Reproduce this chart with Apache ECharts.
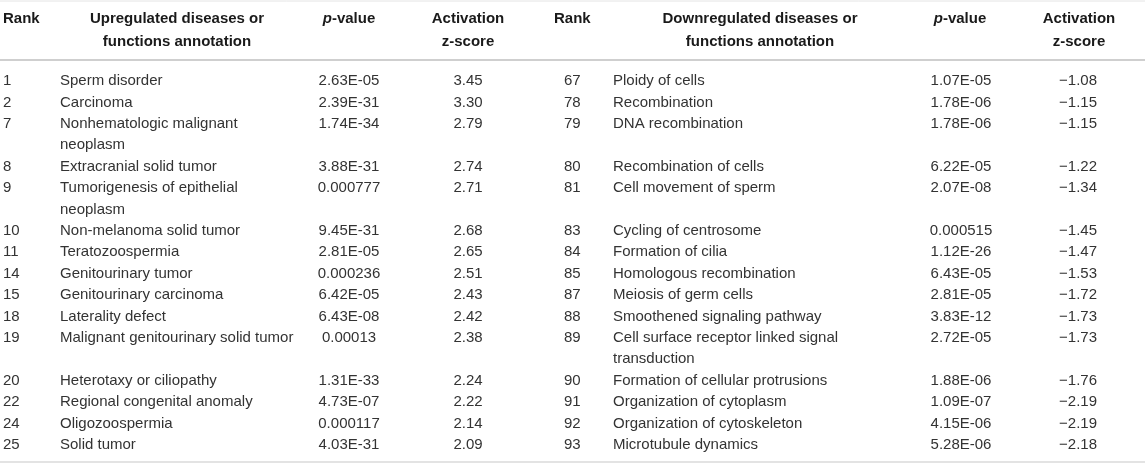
<!DOCTYPE html>
<html>
<head>
<meta charset="utf-8">
<script src="https://cdn.jsdelivr.net/npm/echarts@6/dist/echarts.min.js"></script>
<style>
  html, body { margin: 0; padding: 0; background: #fff; }
  #main { width: 1145px; height: 463px; }
</style>
</head>
<body>
<div id="main"></div>
<script>
// table data
var upRank = [1, 2, 7, 8, 9, 10, 11, 14, 15, 18, 19, 20, 22, 24, 25];
var upTerm = ['Sperm disorder', 'Carcinoma', 'Nonhematologic malignant\nneoplasm', 'Extracranial solid tumor',
  'Tumorigenesis of epithelial\nneoplasm', 'Non-melanoma solid tumor', 'Teratozoospermia', 'Genitourinary tumor',
  'Genitourinary carcinoma', 'Laterality defect', 'Malignant genitourinary solid tumor', 'Heterotaxy or ciliopathy',
  'Regional congenital anomaly', 'Oligozoospermia', 'Solid tumor'];
var upP = ['2.63E-05', '2.39E-31', '1.74E-34', '3.88E-31', '0.000777', '9.45E-31', '2.81E-05', '0.000236',
  '6.42E-05', '6.43E-08', '0.00013', '1.31E-33', '4.73E-07', '0.000117', '4.03E-31'];
var upZ = [3.45, 3.30, 2.79, 2.74, 2.71, 2.68, 2.65, 2.51, 2.43, 2.42, 2.38, 2.24, 2.22, 2.14, 2.09];

var downRank = [67, 78, 79, 80, 81, 83, 84, 85, 87, 88, 89, 90, 91, 92, 93];
var downTerm = ['Ploidy of cells', 'Recombination', 'DNA recombination', 'Recombination of cells',
  'Cell movement of sperm', 'Cycling of centrosome', 'Formation of cilia', 'Homologous recombination',
  'Meiosis of germ cells', 'Smoothened signaling pathway', 'Cell surface receptor linked signal\ntransduction',
  'Formation of cellular protrusions', 'Organization of cytoplasm', 'Organization of cytoskeleton',
  'Microtubule dynamics'];
var downP = ['1.07E-05', '1.78E-06', '1.78E-06', '6.22E-05', '2.07E-08', '0.000515', '1.12E-26', '6.43E-05',
  '2.81E-05', '3.83E-12', '2.72E-05', '1.88E-06', '1.09E-07', '4.15E-06', '5.28E-06'];
var downZ = [-1.08, -1.15, -1.15, -1.22, -1.34, -1.45, -1.47, -1.53, -1.72, -1.73, -1.73, -1.76, -2.19, -2.19, -2.18];

var headers = ['Rank', 'Upregulated diseases or\nfunctions annotation', '{i|p}-value', 'Activation\nz-score',
  'Rank', 'Downregulated diseases or\nfunctions annotation', '{i|p}-value', 'Activation\nz-score'];

// layout (pixels)
var LINE = 21.4;      // body line height
var FIRST = 81;       // centre of first body line
var HEAD_LH = 23;
var HEAD_TOP = 7.5;
function slot(px) { return (px - FIRST) / LINE; }

var headCols = [
  { x: 3, align: 'left' }, { x: 177, align: 'center' }, { x: 349, align: 'center' }, { x: 468, align: 'center' },
  { x: 554, align: 'left' }, { x: 760, align: 'center' }, { x: 960, align: 'center' }, { x: 1079, align: 'center' }
];
var bodyCols = [
  { x: 3, align: 'left' }, { x: 60, align: 'left' }, { x: 349, align: 'center' }, { x: 468, align: 'center' },
  { x: 564, align: 'left' }, { x: 613, align: 'left' }, { x: 961, align: 'center' }, { x: 1078, align: 'center' }
];

function fmtZ(v) {
  return v.toFixed(2).replace('-', '\u2212');
}

var cells = [];
headers.forEach(function (h, i) {
  cells.push({ x: headCols[i].x, y: slot(HEAD_TOP), align: headCols[i].align, text: h, head: true });
});

var s = 0;
for (var i = 0; i < upRank.length; i++) {
  var lines = Math.max(upTerm[i].split('\n').length, downTerm[i].split('\n').length);
  var row = [String(upRank[i]), upTerm[i], upP[i], fmtZ(upZ[i]),
    String(downRank[i]), downTerm[i], downP[i], fmtZ(downZ[i])];
  row.forEach(function (t, j) {
    cells.push({ x: bodyCols[j].x, y: s - 0.5, align: bodyCols[j].align, text: t, head: false });
  });
  s += lines;
}

var rules = [
  { y: slot(1), w: 1, c: '#e4e4e4' },
  { y: slot(60), w: 2, c: '#cfcfcf' },
  { y: slot(462), w: 1.5, c: '#dadada' }
];

var FONT = '"Liberation Sans", Arial, Helvetica, sans-serif';

var myChart = echarts.init(document.getElementById('main'));
myChart.setOption({
  animation: false,
  grid: { left: 0, right: 0, top: 0, bottom: 0 },
  xAxis: { type: 'value', min: 0, max: 1145, show: false },
  yAxis: { type: 'value', min: slot(0), max: slot(463), inverse: true, show: false },
  series: [{
      type: 'custom',
      silent: true,
      clip: false,
      data: rules.map(function (r) { return [0, r.y]; }),
      renderItem: function (params, api) {
        var r = rules[params.dataIndex];
        var a = api.coord([0, r.y]);
        var b = api.coord([1145, r.y]);
        return {
          type: 'line',
          shape: { x1: a[0], y1: a[1], x2: b[0], y2: b[1] },
          style: { stroke: r.c, lineWidth: r.w }
        };
      }
    },
    {
      type: 'custom',
      silent: true,
      clip: false,
      data: cells.map(function (c) { return [c.x, c.y]; }),
      renderItem: function (params, api) {
        var c = cells[params.dataIndex];
        var p = api.coord([api.value(0), api.value(1)]);
        return {
          type: 'text',
          x: p[0],
          y: p[1],
          style: {
            text: c.text,
            align: c.align,
            verticalAlign: 'top',
            fontFamily: FONT,
            fontSize: 15,
            fontWeight: c.head ? 'bold' : 'normal',
            lineHeight: c.head ? HEAD_LH : LINE,
            fill: c.head ? '#1a1a1a' : '#333',
            rich: {
              i: { fontStyle: 'italic', fontWeight: 'bold', fontSize: 15, fontFamily: FONT, fill: '#1a1a1a', lineHeight: HEAD_LH }
            }
          }
        };
      }
    }
  ]
});
</script>
</body>
</html>
